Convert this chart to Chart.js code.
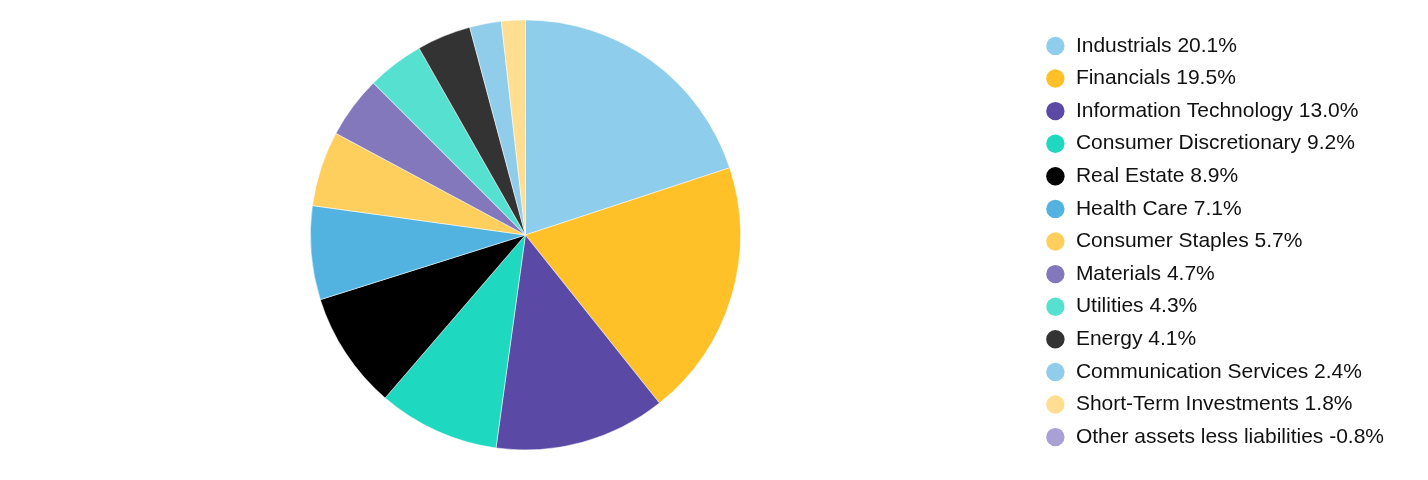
<!DOCTYPE html>
<html>
<head>
<meta charset="utf-8">
<script src="https://cdn.jsdelivr.net/npm/chart.js@4"></script>
<style>
  html, body { margin: 0; padding: 0; background: #fff; }
  #wrap { width: 1428px; height: 480px; }
</style>
</head>
<body>
<div id="wrap"><canvas id="sectorChart"></canvas></div>
<script>
const sectors = [
    'Industrials', 'Financials', 'Information Technology', 'Consumer Discretionary',
    'Real Estate', 'Health Care', 'Consumer Staples', 'Materials', 'Utilities',
    'Energy', 'Communication Services', 'Short-Term Investments', 'Other assets less liabilities'
];
const weights = [20.1, 19.5, 13.0, 9.2, 8.9, 7.1, 5.7, 4.7, 4.3, 4.1, 2.4, 1.8, -0.8];
const sectorColors = [
    '#8ecdeb', '#ffc028', '#5a4aa5', '#1ed8c0', '#000000', '#53b3e0', '#ffcf5e',
    '#8478bd', '#55e0d0', '#333333', '#8fcdeb', '#ffde91', '#a9a0d6'
];

// negative weights have no slice, they only show up in the legend
const sliceValues = weights.map(v => Math.max(v, 0));

window.renderSectorChart = (canvasId) => {
    const ctx = document.getElementById(canvasId).getContext('2d');

    window.mySectorChart = new Chart(ctx, {
        type: 'pie',
        data: {
            labels: sectors,
            datasets: [{
                data: sliceValues,
                backgroundColor: sectorColors,
                borderColor: '#ffffff',
                borderWidth: 0.5,
                radius: 215
            }]
        },
        options: {
            responsive: true,
            maintainAspectRatio: false,
            animation: false,
            layout: { padding: { top: 0, bottom: 10, left: 17, right: 34 } },
            plugins: {
                tooltip: { enabled: false },
                legend: {
                    position: 'right',
                    align: 'center',
                    // empty title only nudges the legend rows down a little
                    title: { display: true, text: '', font: { size: 1, lineHeight: 1 }, padding: { top: 6, bottom: 6 } },
                    labels: {
                        usePointStyle: true,
                        pointStyle: 'circle',
                        boxWidth: 20,
                        boxHeight: 13,
                        padding: 11.6,
                        color: '#111111',
                        font: { family: 'Liberation Sans, Arial, sans-serif', size: 21 },
                        generateLabels: () => sectors.map((name, i) => ({
                            text: name + ' ' + weights[i].toFixed(1) + '%',
                            fillStyle: sectorColors[i],
                            strokeStyle: sectorColors[i],
                            fontColor: '#111111',
                            lineWidth: 0,
                            pointStyle: 'circle',
                            hidden: false,
                            index: i
                        }))
                    }
                }
            }
        }
    });
};

renderSectorChart('sectorChart');
</script>
</body>
</html>
